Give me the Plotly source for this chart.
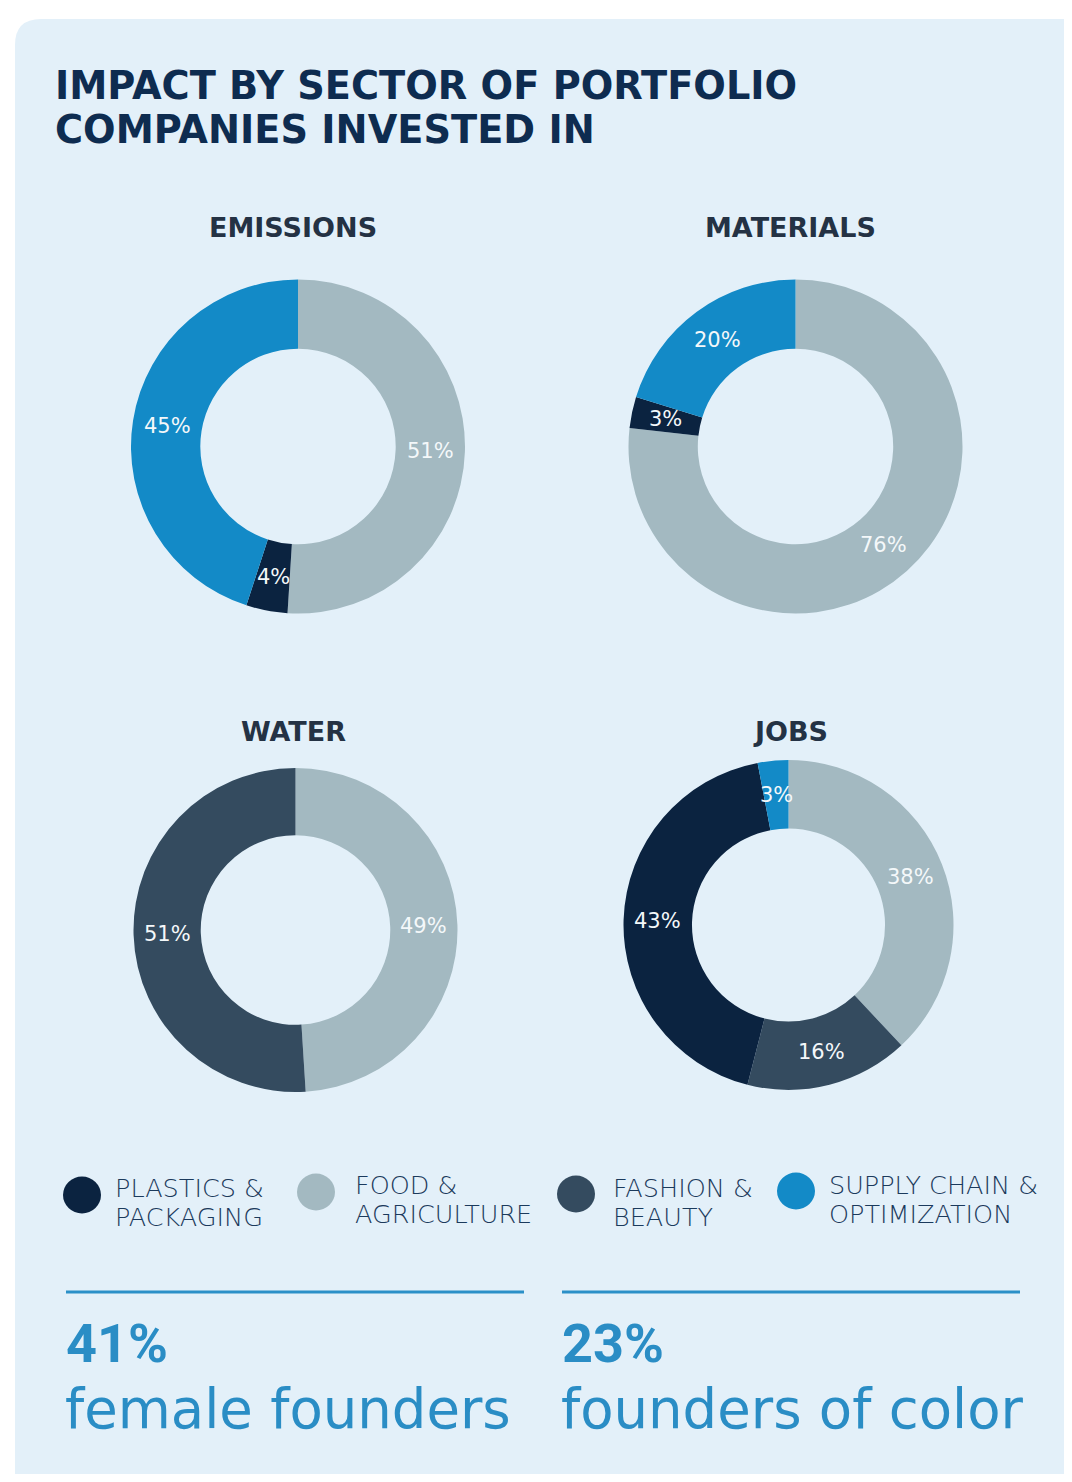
import math
import plotly.graph_objects as go

# page is 1072x1482; the HTML body has an 8px margin, so the figure is placed at (8, 8)
OFF = 8
W, H = 1064, 1466

# ---------------- data ----------------
categories = ["PLASTICS & PACKAGING", "FOOD & AGRICULTURE", "FASHION & BEAUTY", "SUPPLY CHAIN & OPTIMIZATION"]
legend_lines = [["PLASTICS &", "PACKAGING"], ["FOOD &", "AGRICULTURE"], ["FASHION &", "BEAUTY"],
                ["SUPPLY CHAIN &", "OPTIMIZATION"]]

chart_titles = ["EMISSIONS", "MATERIALS", "WATER", "JOBS"]

emissions_labels = ["FOOD & AGRICULTURE", "PLASTICS & PACKAGING", "SUPPLY CHAIN & OPTIMIZATION"]
emissions_values = [51, 4, 45]

materials_labels = ["FOOD & AGRICULTURE", "PLASTICS & PACKAGING", "SUPPLY CHAIN & OPTIMIZATION"]
materials_values = [76, 3, 20]

water_labels = ["FOOD & AGRICULTURE", "FASHION & BEAUTY"]
water_values = [49, 51]

jobs_labels = ["FOOD & AGRICULTURE", "FASHION & BEAUTY", "PLASTICS & PACKAGING", "SUPPLY CHAIN & OPTIMIZATION"]
jobs_values = [38, 16, 43, 3]

stat_values = ["41%", "23%"]
stat_labels = ["female founders", "founders of color"]

title_lines = ["IMPACT BY SECTOR OF PORTFOLIO", "COMPANIES INVESTED IN"]

# ---------------- style ----------------
colors = {
    "PLASTICS & PACKAGING": "#0B2340",
    "FOOD & AGRICULTURE": "#A3B9C1",
    "FASHION & BEAUTY": "#344B5F",
    "SUPPLY CHAIN & OPTIMIZATION": "#138AC7",
}
PANEL = "#E3F0F9"
NAVY = "#0E2C50"
BLUE = "#2A8DC5"
FONT = "DejaVu Sans"
HOLE = 0.585


def X(px):
    return (px - OFF) / W


def Y(py):
    return 1 - (py - OFF) / H


# pie geometry (center x, center y, radius) in page pixels
pies = [
    (emissions_labels, emissions_values, 298.0, 446.5, 167.0),
    (materials_labels, materials_values, 795.5, 446.5, 167.0),
    (water_labels, water_values, 295.5, 930.0, 162.0),
    (jobs_labels, jobs_values, 788.5, 925.0, 165.0),
]
title_pos = [(292.5, 237), (790, 237), (293, 741), (790, 741)]

fig = go.Figure()
annotations = []
shapes = []

# background panel with rounded corners
x0, y0, x1, y1, r = 15, 19, 1090, 1500, 26
path = (
    f"M {X(x0 + r)} {Y(y0)} L {X(x1 - r)} {Y(y0)} Q {X(x1)} {Y(y0)} {X(x1)} {Y(y0 + r)} "
    f"L {X(x1)} {Y(y1)} L {X(x0)} {Y(y1)} "
    f"L {X(x0)} {Y(y0 + r)} Q {X(x0)} {Y(y0)} {X(x0 + r)} {Y(y0)} Z"
)
shapes.append(dict(type="path", xref="paper", yref="paper", path=path,
                   fillcolor=PANEL, line=dict(width=0), layer="below"))

for (labels, values, cx, cy, rad), ttl, (tx, tb) in zip(pies, chart_titles, title_pos):
    fig.add_trace(go.Pie(
        labels=labels, values=values, hole=HOLE, sort=False, direction="clockwise",
        rotation=0, textinfo="none", showlegend=False,
        marker=dict(colors=[colors[l] for l in labels], line=dict(width=0)),
        domain=dict(x=[X(cx - rad), X(cx + rad)], y=[Y(cy + rad), Y(cy - rad)]),
        hovertemplate="%{label}: %{value}%<extra></extra>",
    ))
    total = sum(values)
    cum = 0.0
    rm = rad * (1 + HOLE) / 2
    for v in values:
        mid = (cum + v / 2) / total * 2 * math.pi
        cum += v
        lx = cx + rm * math.sin(mid)
        ly = cy - rm * math.cos(mid)
        annotations.append(dict(x=X(lx), y=Y(ly), xref="paper", yref="paper",
                                text=f"{v}%", showarrow=False, xanchor="center", yanchor="middle",
                                font=dict(family=FONT, size=21, color="#F4F8FA")))
    s = 27
    annotations.append(dict(x=X(tx), y=Y(tb - 0.346 * s), xref="paper", yref="paper",
                            text=ttl, showarrow=False, xanchor="center", yanchor="middle",
                            font=dict(family=FONT, size=s, color="#243244", weight="bold")))

# main title
s = 38.3
for line, base in zip(title_lines, [99, 143]):
    annotations.append(dict(x=X(53), y=Y(base - 0.346 * s), xref="paper", yref="paper",
                            text=line, showarrow=False, xanchor="left", yanchor="middle",
                            font=dict(family=FONT, size=s, color=NAVY, weight="bold")))

# legend
leg_circles = [(82, 1195), (316, 1192), (576, 1194), (796, 1191)]
leg_text = [(113, 1197), (353, 1194), (611, 1197), (827, 1194)]
s = 25.5
for cat, lines, (ccx, ccy), (ltx, ltb) in zip(categories, legend_lines, leg_circles, leg_text):
    shapes.append(dict(type="circle", xref="paper", yref="paper",
                       x0=X(ccx - 19), x1=X(ccx + 19), y0=Y(ccy + 18.5), y1=Y(ccy - 18.5),
                       fillcolor=colors[cat], line=dict(width=0)))
    for k, ln in enumerate(lines):
        annotations.append(dict(x=X(ltx), y=Y(ltb + 29 * k - 0.346 * s), xref="paper", yref="paper",
                                text=ln, showarrow=False, xanchor="left", yanchor="middle",
                                font=dict(family=FONT, size=s, color="#1B3A5C", weight=300)))

# stats
stat_x = [(66, 524), (562, 1020)]
for (sx0, sx1), val, lab in zip(stat_x, stat_values, stat_labels):
    shapes.append(dict(type="line", xref="paper", yref="paper",
                       x0=X(sx0), x1=X(sx1), y0=Y(1292), y1=Y(1292),
                       line=dict(color="#2B90C8", width=3)))
    s1 = 54
    annotations.append(dict(x=X(sx0 - 2), y=Y(1362 - 0.342 * s1), xref="paper", yref="paper",
                            text=val, showarrow=False, xanchor="left", yanchor="middle",
                            font=dict(family="Roboto", size=s1, color=BLUE, weight="bold")))
    s2 = 54.5
    annotations.append(dict(x=X(sx0 - 3), y=Y(1428 - 0.346 * s2), xref="paper", yref="paper",
                            text=lab, showarrow=False, xanchor="left", yanchor="middle",
                            font=dict(family=FONT, size=s2, color=BLUE)))

fig.update_layout(
    width=W, height=H,
    margin=dict(l=0, r=0, t=0, b=0),
    paper_bgcolor="white", plot_bgcolor="white",
    shapes=shapes, annotations=annotations,
    showlegend=False,
)

fig.write_html("out.html")
